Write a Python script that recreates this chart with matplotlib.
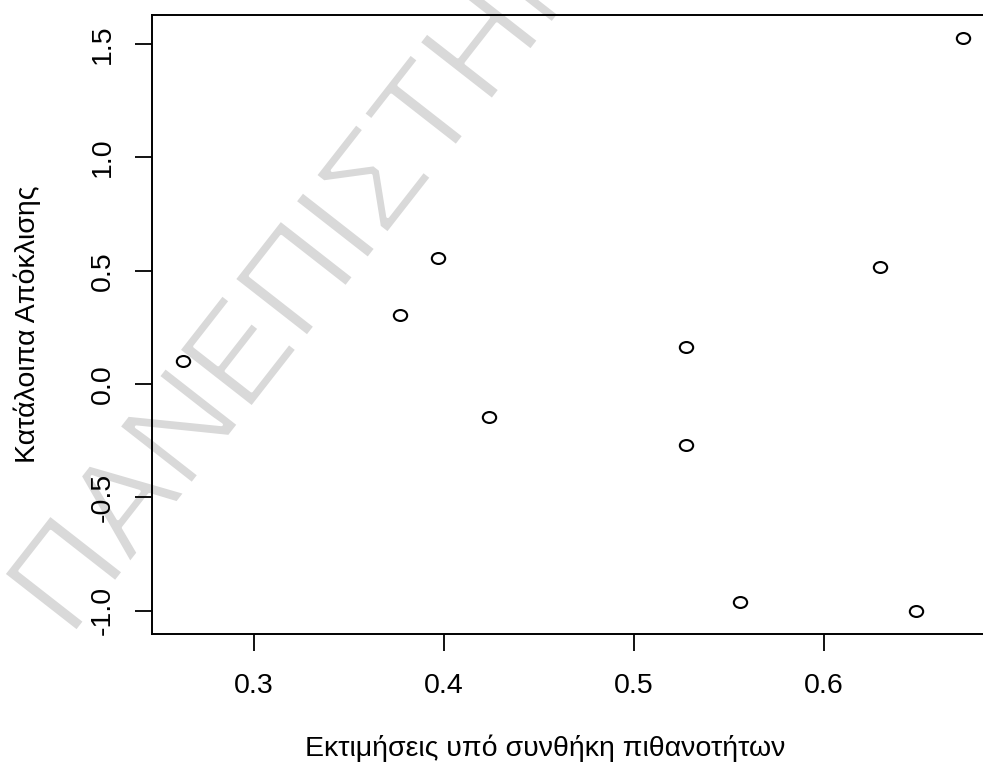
import numpy as np
import matplotlib
matplotlib.use("Agg")
import matplotlib.pyplot as plt
from matplotlib.path import Path
import matplotlib.patheffects as pe

# Fitted probabilities vs. deviance residuals
fitted = [0.2629, 0.3768, 0.3968, 0.4240, 0.5274, 0.5274, 0.5557, 0.6294, 0.6483, 0.6734]
resid = [0.103, 0.306, 0.555, -0.147, 0.162, -0.269, -0.961, 0.518, -1.000, 1.528]

x_ticks = [0.3, 0.4, 0.5, 0.6]
y_ticks = [-1.0, -0.5, 0.0, 0.5, 1.0, 1.5]
x_label = "Εκτιμήσεις υπό συνθήκη πιθανοτήτων"
y_label = "Κατάλοιπα Απόκλισης"
watermark = "ΠΑΝΕΠΙΣΤΗΜΙΟ"

plt.rcParams["font.family"] = ["Liberation Sans", "DejaVu Sans"]

W, H = 983, 769
fig = plt.figure(figsize=(W / 100, H / 100), dpi=100)
fig.patch.set_facecolor("white")

# plot region in pixels (left, top, right, bottom)
L, T, R, B = 152.3, 14.9, 994.4, 633.5
ax = fig.add_axes([L / W, (H - B) / H, (R - L) / W, (B - T) / H])
ax.set_zorder(2)
ax.set_facecolor("none")

# background watermark (thinned with a white outline)
fig.text(70 / W, 1 - 640 / H, watermark, fontsize=97, color="#d9d9d9",
         rotation=52, rotation_mode="anchor", ha="left", va="baseline",
         zorder=0,
         path_effects=[pe.Normal(), pe.Stroke(linewidth=2.2, foreground="white")])

# slightly wide open-circle marker
circ = Path.unit_circle()
ell = Path(circ.vertices * np.array([1.22, 1.0]), circ.codes)

ax.plot(fitted, resid, linestyle="none", marker=ell, markersize=9.6,
        markerfacecolor="none", markeredgecolor="black", markeredgewidth=1.5,
        zorder=3)

# R-style padded ranges
def padded(v):
    lo, hi = min(v), max(v)
    d = (hi - lo) * 0.04
    return lo - d, hi + d

ax.set_xlim(*padded(fitted))
ax.set_ylim(*padded(resid))

ax.set_xticks(x_ticks)
ax.set_xticklabels([f"{t:.1f}" for t in x_ticks])
ax.set_yticks(y_ticks)
ax.set_yticklabels([f"{t:.1f}" for t in y_ticks], rotation=90, va="center")

for s in ax.spines.values():
    s.set_linewidth(1.4)
ax.tick_params(axis="both", length=12.5, width=1.3, labelsize=20.5, color="black")
ax.tick_params(axis="x", pad=16)
ax.tick_params(axis="y", pad=14)

ax.set_xlabel(x_label, fontsize=20.5)
ax.xaxis.set_label_coords((545 - L) / (R - L), (B - 748) / (B - T))
ax.xaxis.label.set_va("center")
ax.set_ylabel(y_label, fontsize=20.5)
ax.yaxis.set_label_coords((27 - L) / (R - L), (B - 324) / (B - T))
ax.yaxis.label.set_va("center")

fig.savefig("out.png", dpi=100, facecolor="white")
